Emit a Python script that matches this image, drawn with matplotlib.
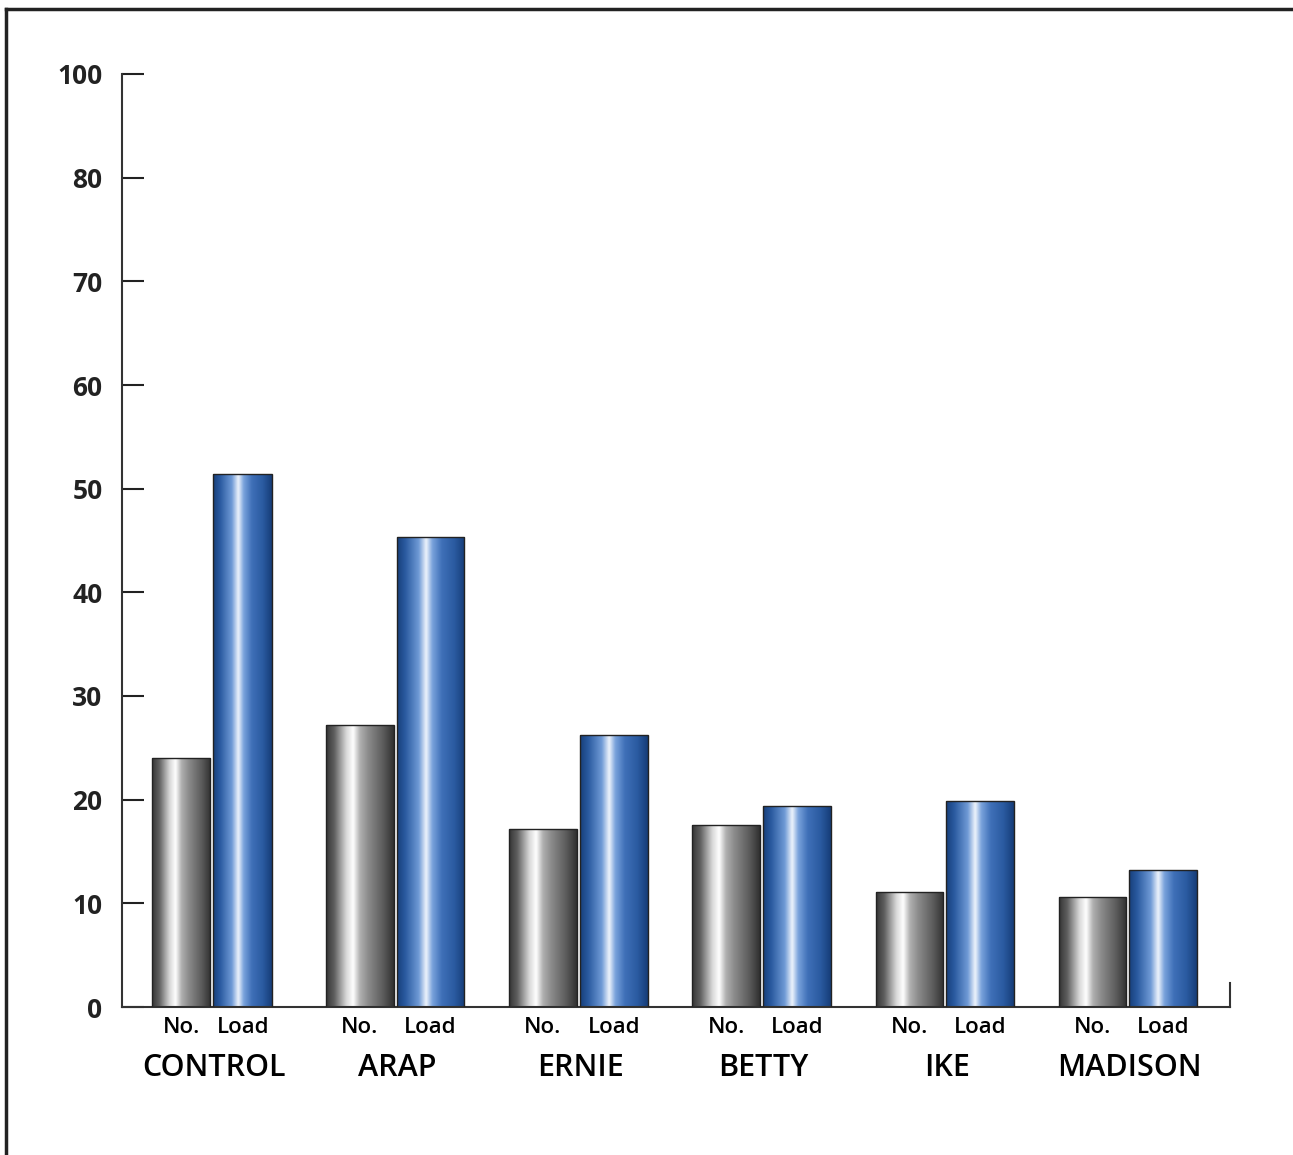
import numpy as np
import matplotlib.pyplot as plt
from matplotlib.colors import LinearSegmentedColormap
from matplotlib.lines import Line2D

# Dati
groups = ["CONTROL", "ARAP", "ERNIE", "BETTY", "IKE", "MADISON"]
no_vals = [24.0, 27.2, 17.2, 17.6, 11.1, 10.6]
load_vals = [51.4, 45.3, 26.2, 19.4, 19.9, 13.2]
sub_labels = ["No.", "Load"]
tick_vals = [0, 10, 20, 30, 40, 50, 60, 70, 80, 90]
tick_text = ["0", "10", "20", "30", "40", "50", "60", "70", "80", "100"]

plt.rcParams['font.family'] = ['Open Sans', 'DejaVu Sans']

fig = plt.figure(figsize=(12.93, 11.55), dpi=100)
W, H = 1293, 1155
ax = fig.add_axes([122 / W, 1 - 1007 / H, (1230 - 122) / W, (1007 - 74) / H])

# Sfumature "cilindriche"
gray_cmap = LinearSegmentedColormap.from_list("gr", [
    (0.0, "#353535"), (0.12, "#5e5e5e"), (0.30, "#d8d8d8"), (0.40, "#ffffff"),
    (0.50, "#b0b0b0"), (0.62, "#8c8c8c"), (0.85, "#5a5a5a"), (1.0, "#303030")])
blue_cmap = LinearSegmentedColormap.from_list("bl", [
    (0.0, "#173f7a"), (0.12, "#2a5aa0"), (0.32, "#6f9ad6"), (0.43, "#eef4fc"),
    (0.52, "#7aa3dc"), (0.66, "#3f70b8"), (0.85, "#2a5aa0"), (1.0, "#163d78")])
grad = np.linspace(0, 1, 256).reshape(1, -1)

x = np.arange(len(groups))
widths = [0.32, 0.37, 0.37, 0.37, 0.37, 0.37]


def shaded_bar(xc, h, w, cmap):
    b = ax.bar(xc, h, w, facecolor="none", edgecolor="#222222", linewidth=1.0, zorder=3)[0]
    im = ax.imshow(grad, cmap=cmap, aspect="auto", extent=[xc - w / 2, xc + w / 2, 0, h],
                   zorder=2, interpolation="bicubic")
    im.set_clip_path(b)


for i in range(len(groups)):
    w = widths[i]
    xn = x[i] - w / 2 - 0.008
    xl = x[i] + w / 2 + 0.008
    shaded_bar(xn, no_vals[i], w, gray_cmap)
    shaded_bar(xl, load_vals[i], w, blue_cmap)
    ax.text(xn, -1.0, sub_labels[0], ha="center", va="top", fontsize=16, fontweight="semibold")
    ax.text(xl, -1.0, sub_labels[1], ha="center", va="top", fontsize=16, fontweight="semibold")
    ax.text(x[i] + 0.01, -4.4, groups[i], ha="center", va="top", fontsize=22,
            fontweight="semibold")

ax.set_xlim(-0.491, 5.557)
ax.set_ylim(0, 90)
ax.set_yticks(tick_vals)
ax.set_yticklabels(tick_text, fontsize=19, fontweight="bold")
ax.set_xticks([])
ax.tick_params(axis="y", direction="in", length=16, width=1.5, pad=14, colors="#222222")
for s in ["top", "right"]:
    ax.spines[s].set_visible(False)
ax.spines["left"].set_linewidth(1.5)
ax.spines["bottom"].set_linewidth(1.5)
ax.spines["left"].set_color("#333333")
ax.spines["bottom"].set_color("#333333")
ax.axvline(5.557, ymin=0, ymax=0.026, color="#333333", lw=1.5, clip_on=False)

# Cornice esterna
fig.add_artist(Line2D([6 / W, 1], [1 - 9 / H, 1 - 9 / H], color="#222222", lw=2.5))
fig.add_artist(Line2D([6 / W, 6 / W], [0, 1 - 9 / H], color="#222222", lw=2.5))

fig.savefig("out.png", dpi=100)
